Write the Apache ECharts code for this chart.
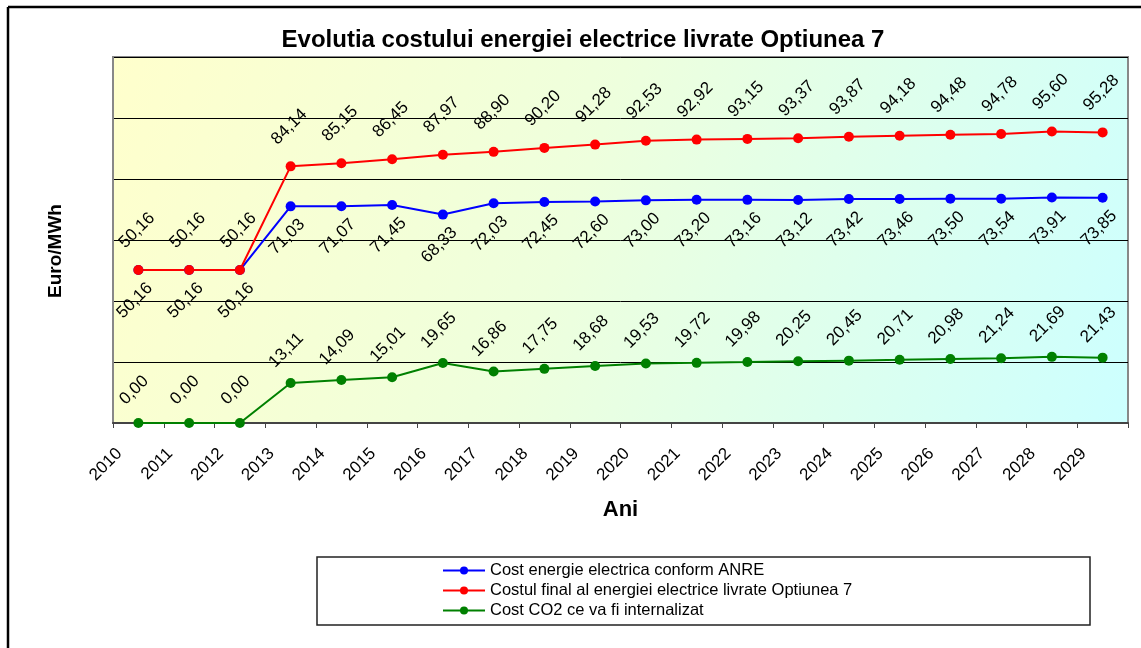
<!DOCTYPE html>
<html>
<head>
<meta charset="utf-8">
<script src="https://cdn.jsdelivr.net/npm/echarts@6/dist/echarts.min.js"></script>
<style>
  html, body { margin: 0; padding: 0; background: #fff; }
  #main { width: 1141px; height: 648px; }
</style>
</head>
<body>
<div id="main"></div>
<script>
// ani
const years = ['2010', '2011', '2012', '2013', '2014', '2015', '2016', '2017', '2018', '2019',
  '2020', '2021', '2022', '2023', '2024', '2025', '2026', '2027', '2028', '2029'];

// Euro/MWh
const costAnre = [50.16, 50.16, 50.16, 71.03, 71.07, 71.45, 68.33, 72.03, 72.45, 72.60,
  73.00, 73.20, 73.16, 73.12, 73.42, 73.46, 73.50, 73.54, 73.91, 73.85];
const costFinal = [50.16, 50.16, 50.16, 84.14, 85.15, 86.45, 87.97, 88.90, 90.20, 91.28,
  92.53, 92.92, 93.15, 93.37, 93.87, 94.18, 94.48, 94.78, 95.60, 95.28];
const costCO2 = [0.00, 0.00, 0.00, 13.11, 14.09, 15.01, 19.65, 16.86, 17.75, 18.68,
  19.53, 19.72, 19.98, 20.25, 20.45, 20.71, 20.98, 21.24, 21.69, 21.43];

const numere = (p) => p.value.toFixed(2).replace('.', ',');

const eticheta = (pos, dist, dx) => ({
  show: true,
  position: pos,
  distance: dist,
  offset: [dx, 0],
  rotate: 45,
  align: 'center',
  verticalAlign: 'middle',
  color: '#000',
  fontSize: 17,
  formatter: numere
});

const serie = (name, data, color, label) => ({
  name: name,
  type: 'line',
  data: data,
  symbol: 'circle',
  symbolSize: 10,
  itemStyle: { color: color },
  lineStyle: { color: color, width: 2 },
  label: label,
  emphasis: { disabled: true }
});

const chart = echarts.init(document.getElementById('main'));
chart.setOption({
  animation: false,
  textStyle: { fontFamily: 'Liberation Sans, Arial, sans-serif' },
  title: {
    text: 'Evolutia costului energiei electrice livrate Optiunea 7',
    left: 578,
    top: 23,
    textAlign: 'center',
    textStyle: { fontSize: 24, fontWeight: 'bold', color: '#000' }
  },
  grid: {
    left: 113, right: 13, top: 57, bottom: 225,
    show: true,
    borderColor: '#888',
    borderWidth: 2,
    backgroundColor: new echarts.graphic.LinearGradient(0, 0, 1, 1, [
      { offset: 0, color: '#ffffcc' },
      { offset: 0.45, color: '#eeffdd' },
      { offset: 1, color: '#ccffff' }
    ])
  },
  legend: {
    orient: 'vertical',
    left: 442,
    top: 561,
    padding: 0,
    itemWidth: 42,
    itemHeight: 10,
    itemGap: 1,
    textStyle: { fontSize: 16.5, color: '#000', lineHeight: 19 },
    data: ['Cost energie electrica conform ANRE',
      'Costul final al energiei electrice livrate Optiunea 7',
      'Cost CO2 ce va fi internalizat']
  },
  xAxis: {
    type: 'category',
    data: years,
    boundaryGap: true,
    name: 'Ani',
    nameLocation: 'middle',
    nameGap: 76,
    nameTextStyle: { fontSize: 22, fontWeight: 'bold', color: '#000' },
    axisLine: { lineStyle: { color: '#444', width: 2 } },
    axisTick: { show: true, interval: 0, length: 5, lineStyle: { color: '#444', width: 1 } },
    axisLabel: {
      interval: 0,
      rotate: 45,
      margin: 9,
      padding: [0, 27, 0, 0],
      fontSize: 17,
      color: '#000'
    }
  },
  yAxis: {
    type: 'value',
    min: 0,
    max: 120,
    interval: 20,
    axisLine: { show: true, lineStyle: { color: '#888', width: 2 } },
    axisTick: { show: false },
    axisLabel: { show: false },
    splitLine: { show: true, lineStyle: { color: '#000', width: 1 } }
  },
  series: [
    serie('Cost energie electrica conform ANRE', costAnre, '#0000ff', eticheta('bottom', 22, -5)),
    serie('Costul final al energiei electrice livrate Optiunea 7', costFinal, '#ff0000', eticheta('top', 36, -2)),
    serie('Cost CO2 ce va fi internalizat', costCO2, '#008000', eticheta('top', 32, -6))
  ],
  graphic: [
    // titlul axei verticale
    {
      type: 'text', x: 56, y: 251, rotation: Math.PI / 2,
      style: {
        text: 'Euro/MWh', fill: '#000', align: 'center', verticalAlign: 'middle',
        font: 'bold 19px "Liberation Sans", Arial, sans-serif'
      }
    },
    { type: 'line', shape: { x1: 8, y1: 7, x2: 1141, y2: 7 }, style: { stroke: '#000', lineWidth: 2.5 } },
    { type: 'line', shape: { x1: 8, y1: 7, x2: 8, y2: 648 }, style: { stroke: '#000', lineWidth: 2.5 } },
    { type: 'rect', shape: { x: 317, y: 557, width: 773, height: 68 }, style: { fill: 'none', stroke: '#222', lineWidth: 1.5 } }
  ]
});
</script>
</body>
</html>
